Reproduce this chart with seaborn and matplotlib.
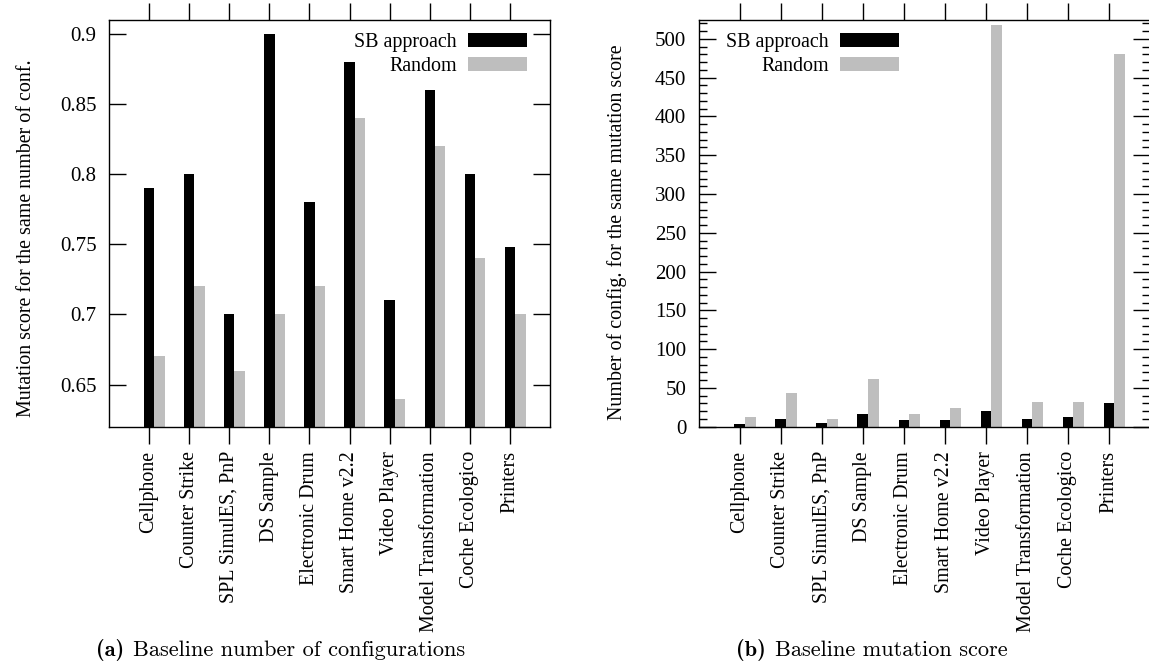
import numpy as np
import pandas as pd
import matplotlib
matplotlib.use("Agg")
import matplotlib.pyplot as plt
from matplotlib.patches import Patch
from matplotlib.ticker import MultipleLocator, FixedLocator, FuncFormatter
import seaborn as sns

# ---- data -------------------------------------------------------------
systems = ["Cellphone", "Counter Strike", "SPL SimulES, PnP", "DS Sample",
           "Electronic Drum", "Smart Home v2.2", "Video Player",
           "Model Transformation", "Coche Ecologico", "Printers"]
methods = ["SB approach", "Random"]

# (a) mutation score reached with the same number of configurations
score_sb = [0.79, 0.80, 0.70, 0.90, 0.78, 0.88, 0.71, 0.86, 0.80, 0.748]
score_random = [0.67, 0.72, 0.66, 0.70, 0.72, 0.84, 0.64, 0.82, 0.74, 0.70]

# (b) configurations needed to reach the same mutation score
configs_sb = [4, 10, 5, 17, 8, 9, 20, 10, 12, 31]
configs_random = [13, 44, 10, 61, 16, 24, 518, 32, 32, 481]

score_ticks = [0.65, 0.70, 0.75, 0.80, 0.85, 0.90]
config_ticks = list(range(0, 501, 50))

colors = ["#000000", "#bebebe"]

# ---- style ------------------------------------------------------------
sns.set_style("ticks")
plt.rcParams["font.family"] = ["Liberation Serif", "DejaVu Serif"]
plt.rcParams["axes.linewidth"] = 1.0
plt.rcParams["axes.edgecolor"] = "black"
plt.rcParams["xtick.color"] = "black"
plt.rcParams["ytick.color"] = "black"
plt.rcParams["text.color"] = "black"
plt.rcParams["axes.labelcolor"] = "black"

W, H = 1149, 664
fig = plt.figure(figsize=(W / 100, H / 100), dpi=100)


def px_axes(x0, y0, x1, y1):
    return fig.add_axes([x0 / W, 1 - y1 / H, (x1 - x0) / W, (y1 - y0) / H])


def long_table(sb, rnd):
    n = len(systems)
    return pd.DataFrame({
        "system": systems * 2,
        "method": [methods[0]] * n + [methods[1]] * n,
        "value": list(sb) + list(rnd),
    })


BAR = 0.26
FS = 14.4


def draw(ax, sb, rnd, ylim, yticks, ylabel, legend_anchor, label_xy):
    sns.barplot(data=long_table(sb, rnd), x="system", y="value", hue="method",
                order=systems, hue_order=methods, palette=colors,
                width=2 * BAR, gap=0, saturation=1, linewidth=0,
                errorbar=None, legend=False, ax=ax)
    ticks = np.arange(len(systems)) - BAR / 2
    ax.set_xticks(ticks, systems, rotation=90)
    ax.set_xlim(ticks[0] - 1, ticks[-1] + 1)
    ax.set_ylim(*ylim)
    ax.yaxis.set_major_locator(FixedLocator(yticks))
    ax.yaxis.set_major_formatter(FuncFormatter(lambda v, p: f"{v:g}"))
    ax.tick_params(axis="x", which="major", bottom=True, top=True,
                   direction="out", length=12, width=1, pad=5.5, labelsize=FS)
    ax.tick_params(axis="y", which="both", left=True, right=True,
                   direction="in", width=1, labelsize=15, pad=9)
    ax.tick_params(axis="y", which="major", length=12)
    ax.tick_params(axis="y", which="minor", length=6)
    ax.set_xlabel("")
    ax.set_ylabel(ylabel, fontsize=FS)
    ax.yaxis.set_label_coords(*label_xy)
    for s in ax.spines.values():
        s.set_visible(True)
        s.set_linewidth(1.0)
    handles = [Patch(facecolor=c, edgecolor="none") for c in colors]
    ax.legend(handles, methods, loc="upper right", bbox_to_anchor=legend_anchor,
              frameon=False, markerfirst=False, handlelength=2.95,
              handleheight=0.67, handletextpad=0.55, labelspacing=0.25,
              borderpad=0, borderaxespad=0, fontsize=FS)


ax_a = px_axes(109, 19.5, 550, 426.7)
draw(ax_a, score_sb, score_random, (0.62, 0.91), score_ticks,
     "Mutation score for the same number of conf.",
     (0.948, 0.967), (-0.165, 0.463))

ax_b = px_axes(698.7, 19.5, 1150, 426.7)
draw(ax_b, configs_sb, configs_random, (0, 525), config_ticks,
     "Number of config. for the same mutation score",
     (0.444, 0.967), (-0.158, 0.478))
ax_b.yaxis.set_minor_locator(MultipleLocator(10))

# ---- sub-captions ----------------------------------------------------
CAP = 16.1
for x_tag, x_txt, tag, txt in [(124, 133, "(a)", "Baseline number of configurations"),
                               (766, 775, "(b)", "Baseline mutation score")]:
    fig.text(x_tag / W, 1 - 650 / H, tag, ha="right", va="center",
             family="cmb10", fontsize=CAP)
    fig.text(x_txt / W, 1 - 650 / H, txt, ha="left", va="center",
             family="cmr10", fontsize=CAP)

fig.savefig("out.png", dpi=100)
